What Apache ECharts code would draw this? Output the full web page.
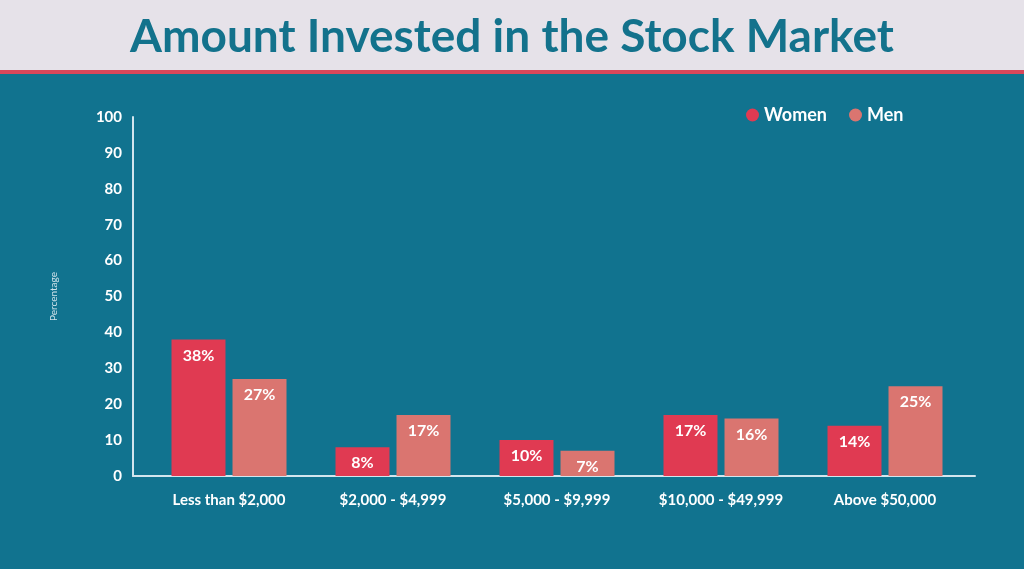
<!DOCTYPE html>
<html>
<head>
<meta charset="utf-8">
<script src="https://cdn.jsdelivr.net/npm/echarts@6/dist/echarts.min.js"></script>
<style>
  html, body { margin: 0; padding: 0; background: #11738f; }
  #main { width: 1024px; height: 569px; }
</style>
</head>
<body>
<div id="main"></div>
<script>
// data
var categories = ['Less than $2,000', '$2,000 - $4,999', '$5,000 - $9,999', '$10,000 - $49,999', 'Above $50,000'];
var women = [38, 8, 10, 17, 14];
var men = [27, 17, 7, 16, 25];
var yTicks = [0, 10, 20, 30, 40, 50, 60, 70, 80, 90, 100];

var chart = echarts.init(document.getElementById('main'));

var lineColor = '#d3e6ee';
var fontFam = 'Lato, "Open Sans", sans-serif';

var option = {
    backgroundColor: '#11738f',
    graphic: [
        { type: 'rect', left: 0, top: 0, shape: { width: 1024, height: 70 }, style: { fill: '#e6e2e9' }, z: 0 },
        { type: 'rect', left: 0, top: 70, shape: { width: 1024, height: 4 }, style: { fill: '#d9475a' }, z: 0 }
    ],
    title: {
        text: 'Amount Invested in the Stock Market',
        left: 'center',
        top: 9,
        textStyle: { color: '#13728c', fontSize: 46, fontWeight: 'bold', fontFamily: fontFam }
    },
    legend: {
        data: ['Women', 'Men'],
        left: 741,
        top: 101,
        icon: 'circle',
        itemWidth: 13,
        itemHeight: 13,
        itemGap: 22,
        textStyle: { color: '#ffffff', fontSize: 18, fontWeight: 'bold', fontFamily: fontFam }
    },
    grid: [
        // bars
        { left: 147, right: 57, top: 117, bottom: 93 },
        // axis lines and y labels
        { left: 133, right: 49, top: 117, bottom: 93 }
    ],
    xAxis: [
        {
            type: 'category',
            gridIndex: 0,
            data: categories,
            axisLine: { show: false },
            axisTick: { show: false },
            axisLabel: { color: '#ffffff', fontSize: 15, fontWeight: 'bold', fontFamily: fontFam, margin: 17 }
        },
        {
            type: 'value',
            gridIndex: 1,
            min: 0,
            max: 1,
            axisLine: { show: true, onZero: false, lineStyle: { color: lineColor, width: 2 } },
            axisTick: { show: false },
            axisLabel: { show: false },
            splitLine: { show: false }
        }
    ],
    yAxis: [
        {
            type: 'value',
            gridIndex: 0,
            min: 0,
            max: 100,
            interval: 10,
            axisLine: { show: false },
            axisTick: { show: false },
            axisLabel: { show: false },
            splitLine: { show: false }
        },
        {
            type: 'value',
            gridIndex: 1,
            min: yTicks[0],
            max: yTicks[yTicks.length - 1],
            interval: 10,
            name: 'Percentage',
            nameLocation: 'middle',
            nameGap: 74,
            nameTextStyle: { color: '#cfe2ea', fontSize: 10, fontFamily: fontFam },
            axisLine: { show: true, onZero: false, lineStyle: { color: lineColor, width: 2 } },
            axisTick: { show: false },
            axisLabel: { color: '#ffffff', fontSize: 15, fontWeight: 'bold', fontFamily: fontFam, margin: 11 },
            splitLine: { show: false }
        }
    ],
    series: [
        {
            name: 'Women',
            type: 'bar',
            xAxisIndex: 0,
            yAxisIndex: 0,
            data: women,
            barWidth: 54,
            barGap: '13%',
            itemStyle: { color: '#e03a52' },
            label: {
                show: true, position: 'insideTop', distance: 8,
                formatter: '{c}%', color: '#ffffff', fontSize: 16, fontWeight: 'bold', fontFamily: fontFam
            }
        },
        {
            name: 'Men',
            type: 'bar',
            xAxisIndex: 0,
            yAxisIndex: 0,
            data: men,
            barWidth: 54,
            itemStyle: { color: '#da7570' },
            label: {
                show: true, position: 'insideTop', distance: 8,
                formatter: '{c}%', color: '#ffffff', fontSize: 16, fontWeight: 'bold', fontFamily: fontFam
            }
        }
    ]
};

chart.setOption(option);
</script>
</body>
</html>
